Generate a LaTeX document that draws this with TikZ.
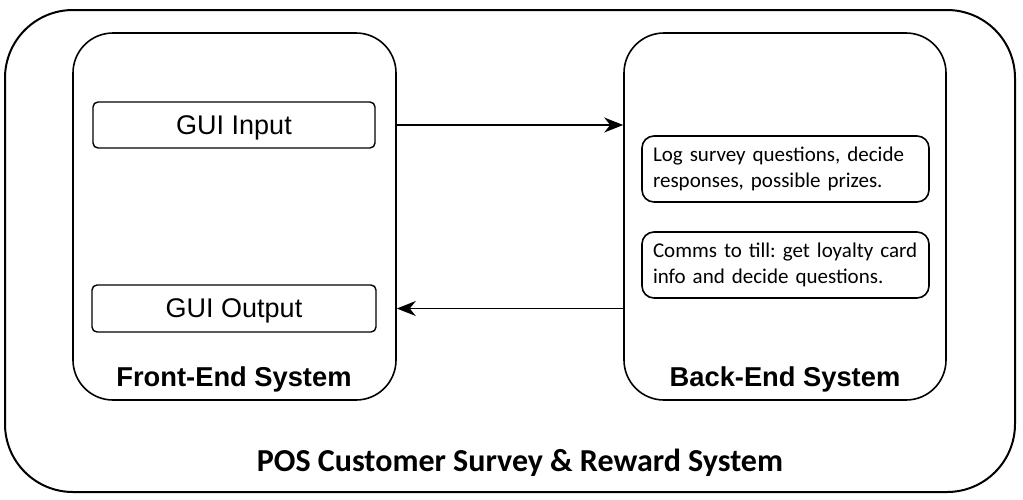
\documentclass[tikz,border=0pt]{standalone}
\usepackage{fontspec}
\setmainfont{Carlito}
\newfontfamily\helv{Liberation Sans}
\usetikzlibrary{arrows.meta}
\begin{document}
\frenchspacing
\begin{tikzpicture}[x=1pt,y=-1pt,
  outerbox/.style={draw, line width=2pt, rounded corners=68pt, inner sep=0pt},
  sysbox/.style={draw, line width=1.6pt, rounded corners=40pt, inner sep=0pt},
  guibox/.style={draw, line width=1.4pt, rounded corners=5pt, inner sep=0pt, text depth=0pt, font=\helv\fontsize{27}{32}\selectfont},
  notebox/.style={draw, line width=1.6pt, rounded corners=12pt, inner sep=0pt},
  notetext/.style={align=left, text width=265pt, inner sep=0pt, font=\fontsize{21}{26}\selectfont},
  syslabel/.style={font=\helv\bfseries\fontsize{27.3}{32}\selectfont, inner sep=0pt},
  flow/.style={line width=1.7pt, -{Stealth[length=19pt,width=15pt,inset=6pt]}}]
\useasboundingbox (0,0) rectangle (1023,499);
\node[outerbox, minimum width=1010pt, minimum height=482pt] (outer) at (510,251) {};
\node[font=\bfseries\fontsize{32}{36}\selectfont, inner sep=0pt] (title) at (520,463) {POS Customer Survey \& Reward System};
\node[sysbox, minimum width=323pt, minimum height=367pt] (front) at (234.5,216.5) {};
\node[sysbox, minimum width=322pt, minimum height=367pt] (back) at (785,216.5) {};
\node[syslabel] (frontlbl) at (234,379) {Front-End System};
\node[syslabel] (backlbl) at (785,379) {Back-End System};
\node[guibox, minimum width=282pt, minimum height=46pt] (guiin) at (234,125) {GUI Input};
\node[guibox, minimum width=284pt, minimum height=47pt] (guiout) at (234,308.5) {GUI Output};
\node[notebox, minimum width=287pt, minimum height=66pt] (log) at (785.5,169) {};
\node[notetext] (logtxt) at (log.center) {Log survey questions, decide\\responses, possible prizes.};
\node[notebox, minimum width=287pt, minimum height=66pt] (comms) at (785.5,265) {};
\node[notetext] (commstxt) at (comms.center) {Comms to till: get loyalty card\\info and decide questions.};
\draw[flow] (front.east |- guiin) -- (back.west |- guiin);
\draw[flow] (back.west |- guiout) -- (front.east |- guiout);
\end{tikzpicture}
\end{document}
